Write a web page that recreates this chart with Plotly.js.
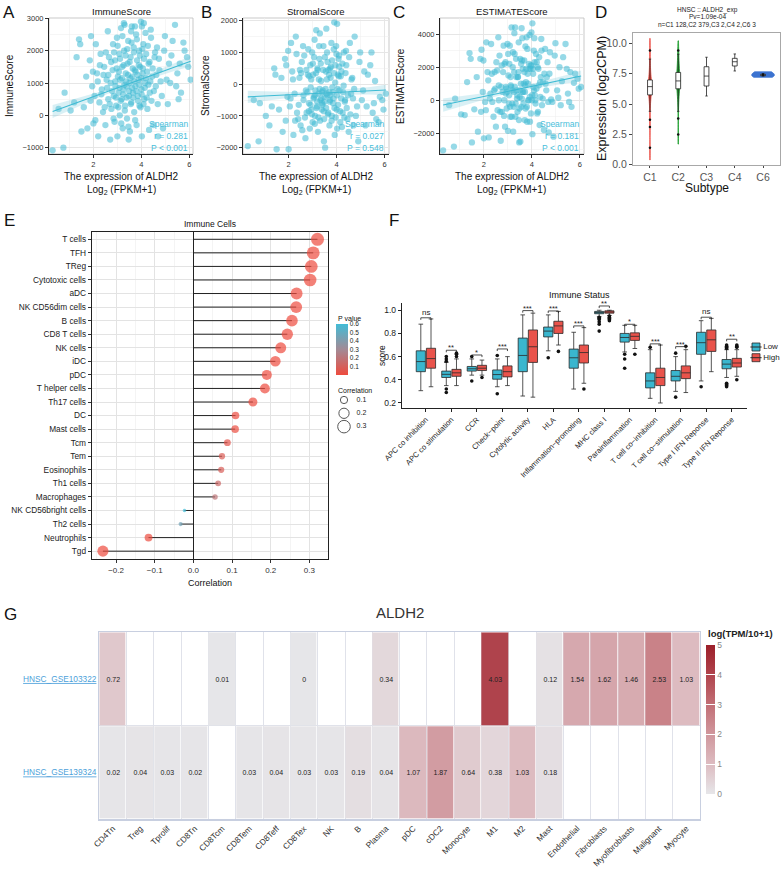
<!DOCTYPE html>
<html><head><meta charset="utf-8">
<script src="https://cdn.plot.ly/plotly-3.0.1.min.js"></script>
<style>html,body{margin:0;padding:0;background:#fff}#chart{width:784px;height:876px}</style>
</head><body><div id="chart"></div>
<script>
// ---------------- DATA ----------------
// Panels A-C : samples (ALDH2 expression vs ESTIMATE scores)
const aldh2 = [0.30,0.75,0.55,0.80,1.05,1.20,1.40,1.45,1.50,1.60,1.70,1.75,1.85,1.90,1.95,2.00,2.05,2.10,2.15,2.20,2.25,2.30,2.35,2.40,2.45,2.50,2.55,2.60,2.62,2.65,2.70,2.72,2.75,2.80,2.82,2.85,2.88,2.90,2.92,2.95,2.98,3.00,3.02,3.05,3.08,3.10,3.12,3.15,3.18,3.20,3.22,3.25,3.28,3.30,3.32,3.35,3.38,3.40,3.42,3.45,3.48,3.50,3.52,3.55,3.58,3.60,3.62,3.65,3.68,3.70,3.72,3.75,3.78,3.80,3.82,3.85,3.88,3.90,3.92,3.95,3.98,4.00,4.02,4.05,4.08,4.10,4.12,4.15,4.20,4.25,4.30,4.35,4.40,4.45,4.50,4.55,4.60,4.65,4.70,4.75,4.85,4.95,5.05,5.15,5.20,5.30,5.40,5.50,5.65,5.80,5.90,6.05,5.55,4.90,1.30,4.02,
  2.62,2.68,2.74,2.78,2.84,2.86,2.91,2.94,2.97,3.01,3.04,3.06,3.09,3.11,3.14,3.16,3.19,3.21,3.24,3.26,3.29,3.31,3.34,3.36,3.39,3.41,3.44,3.46,3.49,3.51,3.54,3.56,3.59,3.61,3.64,3.66,3.69,3.71,3.74,3.76,3.79,3.81,3.84,3.86,3.89,3.91,3.94,3.96,3.99,4.01,4.04,4.06,4.09,4.11,4.14,4.17,4.19,4.22,4.24,4.27,4.29,4.32,4.34,4.37,4.39,4.42,4.47,4.52,4.57,4.62,4.68,4.73,2.52,2.57,2.47,2.42,2.33,2.27,2.18,2.08,1.98,1.88,4.80,4.98,5.10,5.25,5.45,5.60,5.75,5.95,3.27,3.57,3.73,3.47];
const immuneScore = [-1080,-1000,200,700,150,400,2350,2200,-500,250,1200,-400,1700,2450,900,-250,600,2200,1300,-650,400,1900,800,100,1500,-300,1100,2600,500,1800,-750,1000,200,1400,2200,600,-200,1700,900,300,2400,-650,1200,700,1900,0,1100,2700,500,1500,-400,800,2000,2800,300,1300,900,-100,1600,2300,600,1000,-500,1800,400,2750,1200,700,2100,100,1400,900,2500,-300,1700,600,1100,2000,300,1500,2900,800,-650,1300,2200,2850,500,1000,1900,200,1600,700,2400,1200,-300,1800,900,2100,-650,1400,600,2000,1100,1600,1000,2300,2800,1300,700,2000,1800,1100,500,-400,1800,2750,
  1250,350,1650,750,-100,1950,1050,550,1450,2150,250,1350,850,1750,450,-250,1150,2450,650,1550,950,150,1850,1050,550,2050,1250,-350,750,1650,1150,350,2250,850,1450,550,1950,1050,-150,1350,750,2350,1250,450,1550,950,1850,250,1150,650,2050,1450,350,1750,850,2550,1150,550,1350,2150,950,-450,1650,1050,2650,450,1450,750,1950,1250,350,1750,1950,850,250,1250,650,1550,1050,-150,1350,450,1050,2450,350,1850,900,1600,2250,1500,2850,2600,2750,-750];
const stromalScore = [-1950,-1800,-500,-600,-1000,-1300,500,300,-2050,-800,200,-1500,800,600,-400,-2050,-700,1300,400,-1600,-300,1500,-900,-1100,200,-1300,700,1200,-500,900,-1700,-200,-900,300,1100,-600,-1400,600,-100,-800,1000,-1200,300,-400,1400,-1000,-200,1700,-700,500,-1500,-300,800,1600,-500,100,-800,-600,-200,1200,-1100,-400,-2000,400,-300,1000,700,-900,300,-1300,-500,200,1300,-1000,-100,-600,1100,1950,-1600,600,1200,-800,-1400,300,800,900,-200,-1200,400,-900,1000,-500,600,-1100,-1500,1300,-300,200,-1300,1500,-700,700,-500,400,-1300,300,600,-900,-1100,-400,-500,-300,-600,-1800,-700,1900,
  -350,-1050,450,-250,-850,250,-650,150,-950,650,-450,850,-1250,-350,350,-750,-550,450,-1050,150,-150,-1150,650,-450,-250,-650,450,-850,-550,850,-150,-750,150,-350,-950,450,-250,-550,-350,550,-1150,750,-250,-450,350,-750,50,-1050,950,-350,-150,-650,250,550,-850,250,-450,-1350,650,-250,-50,-1050,-550,350,1050,-750,-350,850,-950,150,-450,-150,350,-1450,450,-650,950,-1150,150,-450,1050,-1150,-1000,1000,-200,-700,1000,100,-1200,-800,1200,1750,500,-1800];
const estimateScore = [-3030,-2800,-300,100,-850,-900,2850,2500,-2550,-550,1400,-1900,2500,3050,500,-2300,-100,3500,1700,-2250,100,3400,-100,-1000,1700,-1600,1800,3800,0,2700,-2450,800,-700,1700,3300,0,-1600,2300,800,-500,3400,-1850,1500,300,3300,-1000,900,4400,-200,2000,-1900,500,2800,4400,-200,1400,100,-700,1400,3500,-500,600,-2500,2200,100,3750,1900,-200,2400,-1200,900,1100,3800,-1300,1600,0,2200,3950,-1300,2100,4100,0,-2050,1600,3000,3750,300,-200,2300,-700,2600,200,3000,100,-1800,3100,600,2300,-1950,2900,-100,2700,600,2000,-300,2600,3400,400,-400,1600,1300,800,-100,-2200,1100,4650,
  900,-700,2100,500,-950,2200,400,700,500,2800,-200,2200,-400,1400,800,-1000,600,2900,-400,1700,800,-1000,2500,600,300,1400,1700,-1200,200,2500,1000,-400,2400,500,500,1000,1700,500,-500,1900,-400,3100,1000,0,1900,200,1900,-800,2100,300,1900,800,600,2300,0,2800,700,-800,2000,1900,900,-1500,1100,1400,3700,-300,1100,1600,1000,1400,-100,1600,2300,-600,700,600,1600,400,1200,-600,2400,-700,50,3450,150,1150,1900,1700,1050,700,4050,4350,3250,-2550];
// regression fits (line + 95% band)
const fitX = [0.3,1.2,2.2,3.4,4.6,5.4,6.05];
const fitImmune = [120,363,633,957,1281,1497,1672];
const fitImmuneLo = [-80,223,548,897,1196,1377,1512];
const fitImmuneHi = [320,503,718,1017,1366,1617,1832];
const fitStromal = [-400,-366,-328,-282,-237,-207,-182];
const fitStromalLo = [-590,-501,-413,-337,-322,-327,-347];
const fitStromalHi = [-210,-231,-243,-227,-152,-87,-17];
const fitEstimate = [-290,-16,290,656,1022,1266,1465];
const fitEstimateLo = [-690,-296,120,546,852,1016,1135];
const fitEstimateHi = [110,264,460,766,1192,1516,1795];
const statsImmune = ['Spearman','r = 0.281','P < 0.001'];
const statsStromal = ['Spearman','r = 0.027','P = 0.548'];
const statsEstimate = ['Spearman','r = 0.181','P < 0.001'];

// Panel D : subtypes
const subtypes = ['C1','C2','C3','C4','C6'];
const dValsC1 = [0.4,1.4,3.1,3.7,4.6,5.1,5.4,5.6,5.8,5.9,6.0,6.1,6.2,6.3,6.35,6.4,6.45,6.5,6.6,6.7,6.8,6.9,7.0,7.1,7.3,7.6,7.9,8.3,8.8,9.4,10.4];
const dValsC2 = [1.7,2.5,3.8,4.8,5.4,5.8,6.1,6.3,6.5,6.6,6.7,6.8,6.9,6.95,7.0,7.1,7.2,7.4,7.6,7.8,8.0,8.3,8.7,9.1,9.4,10.2];
const dValsC6 = [7.2,7.4,7.65];
const dLower = [4.4,4.4,5.66,7.72,7.30];
const dQ1 = [5.75,6.25,6.48,8.13,7.33];
const dMedian = [6.43,6.90,7.30,8.48,7.38];
const dQ3 = [6.98,7.60,8.07,8.76,7.45];
const dUpper = [8.7,9.1,8.85,9.12,7.50];
const dOutlierSubtype = ['C1','C1','C1','C1','C2','C2','C2','C6'];
const dOutlierValue = [9.4,3.7,3.1,1.4,9.4,3.8,2.5,7.4];

// Panel E : immune cell correlations
const eCells = ['T cells','TFH','TReg','Cytotoxic cells','aDC','NK CD56dim cells','B cells','CD8 T cells','NK cells','iDC','pDC','T helper cells','Th17 cells','DC','Mast cells','Tcm','Tem','Eosinophils','Th1 cells','Macrophages','NK CD56bright cells','Th2 cells','Neutrophils','Tgd'];
const eCorrelation = [0.321,0.310,0.305,0.302,0.267,0.266,0.255,0.243,0.226,0.212,0.190,0.185,0.154,0.109,0.108,0.088,0.074,0.072,0.064,0.056,-0.023,-0.033,-0.116,-0.234];
const ePValue = [0,0,0,0,0,0,0,0,0,0,0.001,0.001,0.003,0.01,0.012,0.04,0.08,0.09,0.14,0.2,0.6,0.45,0.008,0];
const eSizeLegend = [0.1,0.2,0.3];
const ePTicks = [0.1,0.2,0.3,0.4,0.5,0.6];

// Panel F : immune status Low vs High
const fGroups = ['Low','High'];
const fCats = ['APC co inhibition','APC co stimulation','CCR','Check\u2212point','Cytolytic activity','HLA','Inflammation\u2212promoting','MHC class I','Parainflammation','T cell co\u2212inhibition','T cell co\u2212stimulation','Type I IFN Reponse','Type II IFN Reponse'];
const fLowMin = [0.306,0.35,0.44,0.34,0.26,0.65,0.32,0.945,0.64,0.24,0.30,0.39,0.42];
const fLowQ1  = [0.47,0.42,0.475,0.405,0.47,0.77,0.50,0.97,0.725,0.33,0.39,0.62,0.495];
const fLowMed = [0.557,0.447,0.495,0.445,0.61,0.82,0.59,0.98,0.765,0.39,0.43,0.72,0.535];
const fLowQ3  = [0.65,0.475,0.515,0.485,0.76,0.855,0.665,0.99,0.80,0.46,0.48,0.81,0.575];
const fLowMax = [0.88,0.55,0.58,0.58,0.96,0.96,0.81,1.0,0.87,0.66,0.60,0.91,0.66];
const fHighMin = [0.34,0.35,0.44,0.35,0.25,0.70,0.37,0.955,0.67,0.20,0.29,0.47,0.43];
const fHighQ1  = [0.50,0.43,0.48,0.425,0.55,0.80,0.545,0.975,0.74,0.35,0.41,0.645,0.51];
const fHighMed = [0.583,0.46,0.50,0.47,0.685,0.865,0.635,0.985,0.775,0.42,0.46,0.745,0.545];
const fHighQ3  = [0.672,0.49,0.525,0.52,0.83,0.905,0.70,0.995,0.805,0.50,0.52,0.83,0.585];
const fHighMax = [0.925,0.58,0.57,0.60,0.975,0.99,0.85,1.0,0.87,0.70,0.66,0.93,0.66];
const fLowOutliers = [[],[0.56,0.58,0.60,0.32,0.29],[0.60,0.39],[0.61,0.28],[],[0.59],[],[0.94,0.93,0.92,0.90,0.88,0.82],[0.62,0.58,0.50],[0.68],[0.63,0.25],[0.34],[0.70,0.69,0.68,0.67,0.37,0.36,0.35,0.34]];
const fHighOutliers = [[],[0.60,0.62,0.63],[0.42],[],[],[0.645],[0.32],[0.95,0.94,0.93,0.92,0.91],[0.62],[],[0.69],[],[0.70,0.69,0.68,0.40]];
const fSignif = ['ns','**','*','***','***','***','***','**','*','***','***','ns','**'];
const fSignifY = [0.935,0.655,0.614,0.666,0.997,0.994,0.865,1.037,0.879,0.71,0.686,0.94,0.75];

// Panel G : single cell expression heatmap
const gCells = ['CD4Tn','Treg','Tprolif','CD8Tn','CD8Tcm','CD8Tem','CD8Teff','CD8Tex','NK','B','Plasma','pDC','cDC2','Monocyte','M1','M2','Mast','Endothelial','Fibroblasts','Myofibroblasts','Malignant','Myocyte'];
const gDatasets = ['HNSC_GSE103322','HNSC_GSE139324'];
const gRowGSE103322 = [0.72,null,null,null,0.01,null,null,0,null,null,0.34,null,null,null,4.03,null,0.12,1.54,1.62,1.46,2.53,1.03];
const gRowGSE139324 = [0.02,0.04,0.03,0.02,null,0.03,0.04,0.03,0.03,0.19,0.04,1.07,1.87,0.64,0.38,1.03,0.18,null,null,null,null,null];
const gTicks = [0,1,2,3,4,5];

// ---------------- HELPERS ----------------
const W = 784, H = 876;
const F = 'Liberation Sans, Arial, sans-serif';
const hd = (a,b) => [a/W, b/W];
const vd = (a,b) => [1-b/H, 1-a/H];
const annotations = [];
const shapes = [];
function ann(text, x, y, o) {
  o = o || {};
  const font = Object.assign({family:F, size:9, color:'#111'}, o.font || {});
  const a = Object.assign({text:text, xref:'paper', yref:'paper', x:x/W, y:1-y/H, showarrow:false,
    xanchor:'center', yanchor:'middle'}, o);
  a.font = font;
  annotations.push(a);
}
const traces = [];
const layout = {
  width:W, height:H, margin:{l:0,r:0,t:0,b:0}, paper_bgcolor:'#fff', plot_bgcolor:'#fff',
  font:{family:F, size:8, color:'#222'}, showlegend:false, boxmode:'overlay', violinmode:'overlay',
  annotations:annotations, shapes:shapes
};

// ---------------- A, B, C scatter panels ----------------
const ptColor = 'rgba(64,186,212,0.55)';
const lineColor = '#3DBBD4';
function scatterPanel(k, xpx, ypx, xr, yr, yvals, yminor, ys, fit, lo, hi, stats, title, ytitle, ytx) {
  const xa = 'xaxis'+(k===1?'':k), ya = 'yaxis'+(k===1?'':k);
  const xr_ = 'x'+(k===1?'':k), yr_ = 'y'+(k===1?'':k);
  layout[xa] = {domain:hd(xpx[0],xpx[1]), anchor:yr_, range:xr, tickvals:[2,4,6], ticks:'outside', ticklen:3,
    tickcolor:'#333', showline:true, linecolor:'#222', linewidth:1, showgrid:true, gridcolor:'#E6E6E6', gridwidth:1,
    minor:{showgrid:true, gridcolor:'#F0F0F0', gridwidth:0.6, tick0:1, dtick:2}, zeroline:false,
    tickfont:{family:F,size:7.5,color:'#333'}, fixedrange:true};
  layout[ya] = {domain:vd(ypx[0],ypx[1]), anchor:xr_, range:yr, tickvals:yvals, ticks:'outside', ticklen:3,
    tickcolor:'#333', showline:true, linecolor:'#222', linewidth:1, showgrid:true, gridcolor:'#E6E6E6', gridwidth:1,
    minor:{showgrid:true, gridcolor:'#F0F0F0', gridwidth:0.6, tick0:0, dtick:yminor}, zeroline:false,
    tickfont:{family:F,size:7.5,color:'#333'}, fixedrange:true};
  shapes.push({type:'rect', xref:xr_+' domain', yref:yr_+' domain', x0:0, x1:1, y0:0, y1:1, line:{color:'#BBBBBB', width:0.8}, layer:'below'});
  traces.push({type:'scatter', mode:'markers', x:aldh2, y:ys, xaxis:xr_, yaxis:yr_, hoverinfo:'skip',
    marker:{size:6.3, color:ptColor}});
  traces.push({type:'scatter', mode:'lines', x:fitX, y:lo, xaxis:xr_, yaxis:yr_, hoverinfo:'skip', line:{width:0, color:'rgba(0,0,0,0)'}});
  traces.push({type:'scatter', mode:'lines', x:fitX, y:hi, xaxis:xr_, yaxis:yr_, hoverinfo:'skip', line:{width:0, color:'rgba(0,0,0,0)'}, fill:'tonexty', fillcolor:'rgba(120,200,220,0.28)'});
  traces.push({type:'scatter', mode:'lines', x:fitX, y:fit, xaxis:xr_, yaxis:yr_, hoverinfo:'skip', line:{width:1.1, color:lineColor}});
  const cx = (xpx[0]+xpx[1])/2;
  ann(title, cx, 11, {font:{size:9.5}});
  ann('The expression of ALDH2', cx, 176, {font:{size:10}});
  ann('Log<sub>2</sub> (FPKM+1)', cx, 190, {font:{size:10}});
  ann(ytitle, ytx, (ypx[0]+ypx[1])/2, {textangle:-90, font:{size:10}});
  const sy = [124,136,147.5];
  stats.forEach((s,i)=>ann(s, xpx[1]-3, sy[i], {xanchor:'right', font:{size:8.5, color:'#48BEDA'}}));
}
scatterPanel(1,[49,193],[18,154],[0.15,6.15],[-1195,3010],[-1000,0,1000,2000,3000],500,immuneScore,fitImmune,fitImmuneLo,fitImmuneHi,statsImmune,'ImmuneScore','ImmuneScore',9);
scatterPanel(2,[243,389],[18,154],[0.1,6.18],[-2200,2085],[-2000,-1000,0,1000,2000],500,stromalScore,fitStromal,fitStromalLo,fitStromalHi,statsStromal,'StromalScore','StromalScore',205);
scatterPanel(3,[440,584],[18,154],[0.17,6.17],[-3250,4970],[-2000,0,2000,4000],1000,estimateScore,fitEstimate,fitEstimateLo,fitEstimateHi,statsEstimate,'ESTIMATEScore','ESTIMATEScore',400);

// ---------------- D violin / box ----------------
layout.xaxis4 = {domain:hd(633,780), anchor:'y4', type:'category', categoryarray:subtypes, range:[-0.6,4.6],
  ticks:'outside', ticklen:2, tickcolor:'#444', showline:true, mirror:true, linecolor:'#A8A8A8', linewidth:1,
  showgrid:false, tickfont:{family:F,size:10.5,color:'#555'}, fixedrange:true};
layout.yaxis4 = {domain:vd(32.7,165), anchor:'x4', range:[-0.02,10.87], tickvals:[0,2.5,5,7.5,10], ticktext:['0.0','2.5','5.0','7.5','10.0'],
  ticks:'outside', ticklen:3, tickcolor:'#444', showline:true, mirror:true, linecolor:'#A8A8A8', linewidth:1,
  showgrid:false, zeroline:false, tickfont:{family:F,size:10.5,color:'#555'}, fixedrange:true};
const violinSpec = [[dValsC1,'C1','#E8453C',0.12],[dValsC2,'C2','#1E9E2E',0.12],[dValsC6,'C6','#3C73D0',0.8]];
violinSpec.forEach(v=>{
  traces.push({type:'violin', y:v[0], x0:v[1], xaxis:'x4', yaxis:'y4', width:v[3], spanmode:'hard', points:false,
    box:{visible:false}, meanline:{visible:false}, line:{color:v[2], width:0.8}, fillcolor:v[2], opacity:1,
    hoverinfo:'skip', scalemode:'width'});
});
traces.push({type:'box', x:subtypes, q1:dQ1, median:dMedian, q3:dQ3, lowerfence:dLower, upperfence:dUpper,
  xaxis:'x4', yaxis:'y4', width:0.17, fillcolor:'#fff', line:{color:'#222', width:0.8}, boxpoints:false, hoverinfo:'skip'});
traces.push({type:'scatter', mode:'markers', x:dOutlierSubtype, y:dOutlierValue, xaxis:'x4', yaxis:'y4',
  marker:{size:2.5, color:'#111'}, hoverinfo:'skip'});
ann('HNSC :: ALDH2_exp', 707, 9.7, {font:{size:6.5, color:'#222'}});
ann('Pv=1.09e-04', 707, 16.9, {font:{size:6.5, color:'#222'}});
ann('n=C1 128,C2 379,C3 2,C4 2,C6 3', 707, 24.2, {font:{size:6.5, color:'#222'}});
ann('Expression (log2CPM)', 602, 99, {textangle:-90, font:{size:12.5, color:'#111'}});
ann('Subtype', 706.5, 188, {font:{size:12, color:'#111'}});

// ---------------- E lollipop ----------------
layout.xaxis5 = {domain:hd(91.7,328.3), anchor:'y5', range:[-0.263,0.349], tickvals:[-0.2,-0.1,0,0.1,0.2,0.3],
  ticktext:['\u22120.2','\u22120.1','0.0','0.1','0.2','0.3'], ticks:'outside', ticklen:3, tickcolor:'#333',
  showline:true, mirror:true, linecolor:'#222', linewidth:1, showgrid:true, gridcolor:'#E3E3E3', gridwidth:1,
  minor:{showgrid:true, gridcolor:'#EFEFEF', gridwidth:0.7, tick0:0.05, dtick:0.1},
  zeroline:true, zerolinecolor:'#222', zerolinewidth:1, tickfont:{family:F,size:8,color:'#333'}, fixedrange:true};
layout.yaxis5 = {domain:vd(231.7,559.3), anchor:'x5', type:'category', categoryarray:eCells, range:[23.6,-0.56],
  ticks:'outside', ticklen:3, tickcolor:'#333', showline:true, mirror:true, linecolor:'#222', linewidth:1,
  showgrid:true, gridcolor:'#E3E3E3', gridwidth:1, tickfont:{family:F,size:8.3,color:'#222'}, fixedrange:true};
const sizeOf = r => 23*Math.sqrt(Math.abs(r));
const segX = [], segY = [];
eCells.forEach((c,i)=>{segX.push(0, eCorrelation[i], null); segY.push(c, c, null);});
traces.push({type:'scatter', mode:'lines', x:segX, y:segY, xaxis:'x5', yaxis:'y5', line:{color:'#222', width:1}, hoverinfo:'skip'});
traces.push({type:'scatter', mode:'markers', x:eCorrelation, y:eCells, xaxis:'x5', yaxis:'y5', hoverinfo:'skip',
  marker:{size:eCorrelation.map(sizeOf), color:ePValue, cmin:0, cmax:0.6,
    colorscale:[[0,'#EE4B3E'],[0.5,'#A38A95'],[1,'#42BCD6']], line:{width:0},
    colorbar:{x:336/W, xanchor:'left', y:1-324/H, yanchor:'top', len:51, lenmode:'pixels', thickness:12, thicknessmode:'pixels',
      xpad:0, ypad:0, outlinewidth:0, tickvals:ePTicks, ticks:'', tickfont:{family:F,size:6.5,color:'#222'}}}});
ann('Immune Cells', 210, 224, {font:{size:8.5}});
ann('Correlation', 210, 583, {font:{size:9}});
ann('P value', 336, 318, {xanchor:'left', font:{size:7}});
ann('Correlation', 336, 390, {xanchor:'left', font:{size:7}});
// size key for E: 6 px per unit, circles at 0, labels at 2.1
layout.xaxis8 = {domain:hd(338,368), anchor:'y8', range:[-1,4], visible:false, fixedrange:true};
layout.yaxis8 = {domain:vd(393.3,433.3), anchor:'x8', range:[0.35,0.05], visible:false, fixedrange:true};
traces.push({type:'scatter', mode:'markers', x:eSizeLegend.map(()=>0), y:eSizeLegend, xaxis:'x8', yaxis:'y8', hoverinfo:'skip', cliponaxis:false,
  marker:{size:eSizeLegend.map(sizeOf), color:'rgba(0,0,0,0)', line:{color:'#111', width:1}}});
traces.push({type:'scatter', mode:'text', x:eSizeLegend.map(()=>2.1), y:eSizeLegend, text:eSizeLegend.map(String), xaxis:'x8', yaxis:'y8',
  cliponaxis:false, textposition:'middle right', textfont:{family:F,size:7,color:'#222'}, hoverinfo:'skip'});

// ---------------- F boxplots ----------------
const fIdx = fCats.map((c,i)=>i);
const off = 0.2;
const fColors = ['#3AB6CE','#E9534B'];
layout.xaxis6 = {domain:hd(401.7,747), anchor:'y6', range:[-0.95,12.6], tickvals:fIdx, ticktext:fCats, tickangle:-45,
  ticks:'outside', ticklen:3, tickcolor:'#222', showline:true, linecolor:'#222', linewidth:1, showgrid:false, zeroline:false,
  tickfont:{family:F,size:7.6,color:'#222'}, fixedrange:true};
layout.yaxis6 = {domain:vd(303.3,408.3), anchor:'x6', range:[0.154,1.06], tickvals:[0.2,0.4,0.6,0.8,1.0], ticktext:['0.2','0.4','0.6','0.8','1.0'],
  ticks:'outside', ticklen:3, tickcolor:'#222', showline:true, linecolor:'#222', linewidth:1, showgrid:false, zeroline:false,
  tickfont:{family:F,size:8.5,color:'#222'}, fixedrange:true};
traces.push({type:'box', name:'Low', x:fIdx.map(i=>i-off), q1:fLowQ1, median:fLowMed, q3:fLowQ3, lowerfence:fLowMin, upperfence:fLowMax,
  xaxis:'x6', yaxis:'y6', width:0.36, fillcolor:fColors[0], line:{color:'#2A2A2A', width:0.8}, boxpoints:false, hoverinfo:'skip'});
traces.push({type:'box', name:'High', x:fIdx.map(i=>i+off), q1:fHighQ1, median:fHighMed, q3:fHighQ3, lowerfence:fHighMin, upperfence:fHighMax,
  xaxis:'x6', yaxis:'y6', width:0.36, fillcolor:fColors[1], line:{color:'#2A2A2A', width:0.8}, boxpoints:false, hoverinfo:'skip'});
const oX = [], oY = [];
fLowOutliers.forEach((arr,i)=>arr.forEach(v=>{oX.push(i-off); oY.push(v);}));
fHighOutliers.forEach((arr,i)=>arr.forEach(v=>{oX.push(i+off); oY.push(v);}));
traces.push({type:'scatter', mode:'markers', x:oX, y:oY, xaxis:'x6', yaxis:'y6', marker:{size:3.6, color:'#111'}, hoverinfo:'skip'});
const bX = [], bY = [];
fSignifY.forEach((y,i)=>{bX.push(i-off,i-off,i+off,i+off,null); bY.push(y-0.018,y,y,y-0.018,null);});
traces.push({type:'scatter', mode:'lines', x:bX, y:bY, xaxis:'x6', yaxis:'y6', line:{color:'#222', width:0.8}, hoverinfo:'skip', cliponaxis:false});
fSignif.forEach((s,i)=>annotations.push({text:s, xref:'x6', yref:'y6', x:i, y:fSignifY[i], yanchor:'bottom', xanchor:'center', showarrow:false,
  yshift:s==='ns'?-1:-4, font:{family:F, size:s==='ns'?8:7.5, color:'#222'}}));
ann('Immune Status', 579, 295, {font:{size:9}});
ann('score', 382, 356, {textangle:-90, font:{size:8.5}});
// legend for F (Low / High keys): 6 px per unit, keys at 0, labels at 1.2
layout.xaxis9 = {domain:hd(750,780), anchor:'y9', range:[-1,4], visible:false, fixedrange:true};
layout.yaxis9 = {domain:vd(341.65,363.05), anchor:'x9', range:[1.5,-0.5], visible:false, fixedrange:true};
traces.push({type:'scatter', mode:'markers', x:[0,0], y:[0,1], xaxis:'x9', yaxis:'y9', hoverinfo:'skip', cliponaxis:false,
  marker:{symbol:'square', size:8, color:fColors, line:{color:'#2A2A2A', width:0.8}}});
traces.push({type:'scatter', mode:'markers', x:[0,0], y:[0,1], xaxis:'x9', yaxis:'y9', hoverinfo:'skip', cliponaxis:false,
  marker:{symbol:'line-ew', size:8, line:{color:'#2A2A2A', width:1}}});
traces.push({type:'scatter', mode:'text', x:[1.2,1.2], y:[0,1], text:fGroups, xaxis:'x9', yaxis:'y9', hoverinfo:'skip', cliponaxis:false,
  textposition:'middle right', textfont:{family:F,size:8,color:'#222'}});

// ---------------- G heatmap ----------------
layout.xaxis7 = {domain:hd(99.3,700), anchor:'y7', type:'category', categoryarray:gCells, range:[-0.5,21.5], tickson:'boundaries',
  ticks:'', showgrid:true, gridcolor:'#E0E2EA', gridwidth:1, showline:true, mirror:true, linecolor:'#C8CFE0', linewidth:1.2,
  tickangle:-45, tickfont:{family:F,size:8.3,color:'#333'}, fixedrange:true};
layout.yaxis7 = {domain:vd(632.3,819.3), anchor:'x7', type:'category', categoryarray:gDatasets, range:[1.5,-0.5], tickson:'boundaries',
  ticks:'outside', ticklen:8, tickcolor:'rgba(0,0,0,0)', showgrid:true, gridcolor:'#E0E2EA', gridwidth:1,
  showline:true, mirror:true, linecolor:'#C8CFE0', linewidth:1.2,
  tickvals:gDatasets, ticktext:gDatasets.map(s=>'<u>'+s+'</u>'), tickfont:{family:F,size:8.3,color:'#4C9FDA'}, fixedrange:true};
const gZ = [gRowGSE103322, gRowGSE139324];
traces.push({type:'heatmap', x:gCells, y:gDatasets, z:gZ, xaxis:'x7', yaxis:'y7', zmin:0, zmax:5, xgap:1, ygap:1,
  text:gZ.map(r=>r.map(v=>v==null?'':String(v))), texttemplate:'%{text}', textfont:{family:F,size:7,color:'#222'},
  colorscale:[[0,'#E6E6E9'],[0.2,'#DDBCC1'],[0.4,'#D0979D'],[0.6,'#C26F76'],[0.8,'#B0444D'],[1,'#9C1F2A']],
  hoverinfo:'skip', showscale:true,
  colorbar:{x:706/W, xanchor:'left', y:1-645/H, yanchor:'top', len:149, lenmode:'pixels', thickness:9, thicknessmode:'pixels',
    xpad:0, ypad:0, outlinewidth:0, tickvals:gTicks, ticks:'inside', ticklen:9, tickcolor:'#fff', tickwidth:1,
    tickfont:{family:F,size:8.5,color:'#888'}}});
ann('ALDH2', 400, 612, {font:{size:15, color:'#333'}});
ann('<b>log(TPM/10+1)</b>', 706, 633, {xanchor:'left', font:{size:9.5, color:'#222'}});

// ---------------- panel letters ----------------
[['A',9,12],['B',207,12],['C',399,12],['D',601,13],['E',9,220],['F',394,220],['G',10,614]].forEach(p=>
  ann(p[0], p[1], p[2], {font:{size:17, color:'#111'}}));

traces.forEach(t=>{ t.showlegend = false; });
Plotly.newPlot('chart', traces, layout, {displayModeBar:false, staticPlot:true});
</script></body></html>
